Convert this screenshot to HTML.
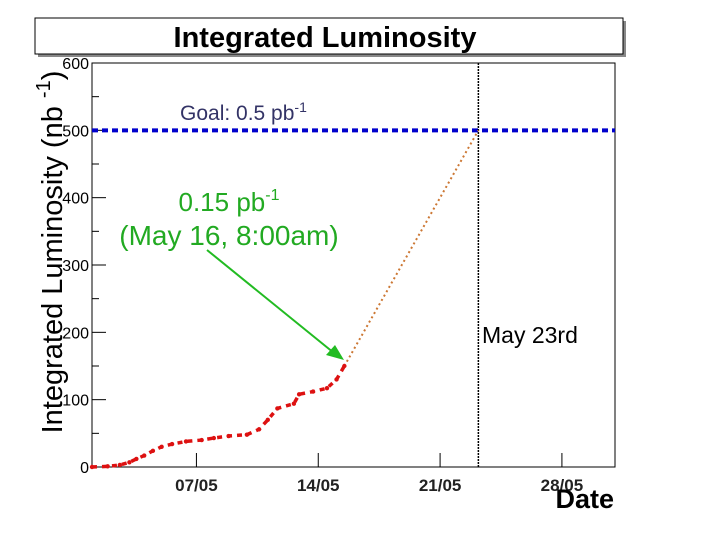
<!DOCTYPE html>
<html><head><meta charset="utf-8"><style>
body{margin:0;background:#fff;}
svg{display:block;font-family:"Liberation Sans",Arial,sans-serif;}
</style></head><body>
<svg width="720" height="540" viewBox="0 0 720 540">
<rect x="0" y="0" width="720" height="540" fill="#fff"/>
<rect x="38" y="21" width="588" height="36" fill="#888"/>
<rect x="35" y="18" width="588" height="36" fill="#fff" stroke="#000" stroke-width="1"/>
<text x="325" y="47" text-anchor="middle" font-size="29" font-weight="bold">Integrated Luminosity</text>
<rect x="92" y="63" width="523" height="404" fill="none" stroke="#000" stroke-width="1"/>
<g id="yaxis"></g>
<g id="xaxis"></g>
<text transform="translate(62,252) rotate(-90)" text-anchor="middle" font-size="29">Integrated Luminosity (nb <tspan dy="-12" font-size="20">-1</tspan><tspan dy="12">)</tspan></text>
<text x="614" y="508" text-anchor="end" font-size="27" font-weight="bold">Date</text>
<g id="marks"></g>
<text x="180" y="120" font-size="21" fill="#333366">Goal: 0.5 pb<tspan dy="-8" font-size="14">-1</tspan></text>
<text x="229" y="211" text-anchor="middle" font-size="26" fill="#22aa22">0.15 pb<tspan dy="-11" font-size="16">-1</tspan></text>
<text x="229" y="245" text-anchor="middle" font-size="28" fill="#22aa22">(May 16, 8:00am)</text>
<line x1="207" y1="250" x2="334" y2="353" stroke="#22bb22" stroke-width="2"/>
<polygon points="344,360 326,355 335,345" fill="#22bb22"/>
<text x="482" y="343" font-size="23">May 23rd</text>
</svg>
<script>
const yTicks=[0,100,200,300,400,500,600];
const xTickDays=[7,14,21,28];
const xTickLabels=["07/05","14/05","21/05","28/05"];
const dataDays=[1.0,1.9,2.6,3.15,3.55,4.0,4.5,5.0,5.6,6.4,7.3,8.0,8.85,9.9,10.6,11.1,11.65,12.6,12.9,13.7,14.5,15.05,15.5];
const dataValues=[0,1,3,7,12,17,24,30,34,38,40,43,46,48,56,70,87,94,108,112,117,130,150];
const projDays=[15.5,23.2];
const projValues=[150,500];
const goalValue=500;
const deadlineDay=23.2;

const NS="http://www.w3.org/2000/svg";
const X0=92,X1=615,Y0=467,Y1=63,D0=1,D1=31.05,V0=0,V1=600;
const sx=d=>X0+(d-D0)/(D1-D0)*(X1-X0);
const sy=v=>Y0-(v-V0)/(V1-V0)*(Y0-Y1);
function mk(tag,attrs,parent){const e=document.createElementNS(NS,tag);for(const k in attrs)e.setAttribute(k,attrs[k]);parent.appendChild(e);return e;}
const ya=document.getElementById('yaxis'),xa=document.getElementById('xaxis'),mg=document.getElementById('marks');
yTicks.forEach((t,i)=>{
  const l=mk('line',{x1:X0,x2:X0+14,y1:sy(t),y2:sy(t),stroke:'#000'},ya);
  
  
  if(i<yTicks.length-1){const m=mk('line',{x1:X0,x2:X0+7,y1:sy(t+50),y2:sy(t+50),stroke:'#000'},ya);
  
  }
  const tx=mk('text',{x:X0-3,y:sy(t)+6,'text-anchor':'end','font-size':'16'},ya);
  tx.textContent=t;
  
  
});
xTickDays.forEach((d,i)=>{
  const l=mk('line',{x1:sx(d),x2:sx(d),y1:Y0,y2:Y0-14,stroke:'#000'},xa);
  
  
  const tx=mk('text',{x:sx(d),y:Y0+24,'text-anchor':'middle','font-size':'17','font-weight':'bold',fill:'#222'},xa);
  tx.textContent=xTickLabels[i];
  
  
});
const g=mk('line',{x1:X0,x2:X1,y1:sy(goalValue),y2:sy(goalValue),stroke:'#0000cc','stroke-width':4,'stroke-dasharray':'6 4'},mg);


const dl=mk('line',{x1:sx(deadlineDay),x2:sx(deadlineDay),y1:Y1,y2:Y0,stroke:'#000','stroke-width':1.5,'stroke-dasharray':'2 1'},mg);


const pj=mk('polyline',{points:projDays.map((d,i)=>sx(d)+','+sy(projValues[i])).join(' '),fill:'none',stroke:'#cc7733','stroke-width':2,'stroke-dasharray':'2 3'},mg);


const dd=mk('polyline',{points:dataDays.map((d,i)=>sx(d)+','+sy(dataValues[i])).join(' '),fill:'none',stroke:'#dd1111','stroke-width':3.5,'stroke-dasharray':'5 5'},mg);


dataDays.forEach((d,i)=>{
  const c=mk('circle',{cx:sx(d),cy:sy(dataValues[i]),r:2.2,fill:'#dd1111'},mg);
  
  
});
</script>
</body></html>
